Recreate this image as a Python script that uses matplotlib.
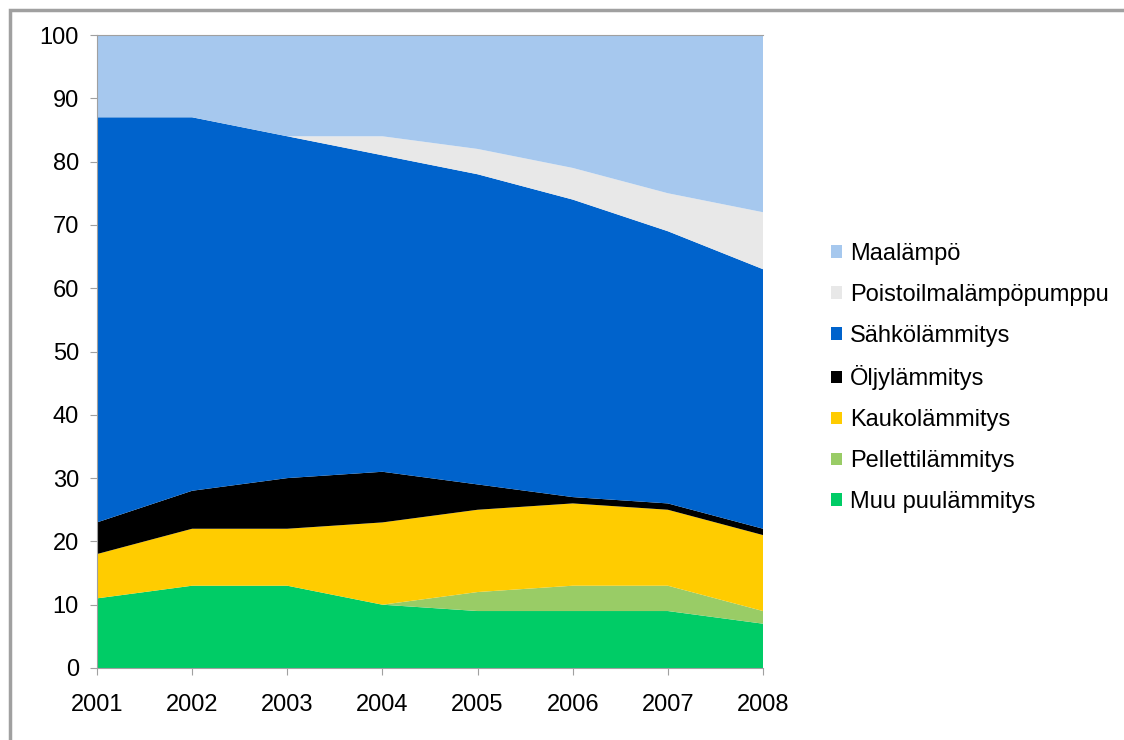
import numpy as np
import matplotlib.pyplot as plt
from matplotlib.patches import Rectangle

plt.rcParams['font.family'] = ['Liberation Sans', 'DejaVu Sans']

years = [2001, 2002, 2003, 2004, 2005, 2006, 2007, 2008]

# shares in percent, bottom layer first
muu_puu = [11, 13, 13, 10, 9, 9, 9, 7]
pelletti = [0, 0, 0, 0, 3, 4, 4, 2]
kauko = [7, 9, 9, 13, 13, 13, 12, 12]
oljy = [5, 6, 8, 8, 4, 1, 1, 1]
sahko = [64, 59, 54, 50, 49, 47, 43, 41]
poistoilma = [0, 0, 0, 3, 4, 5, 6, 9]
maalampo = [13, 13, 16, 16, 18, 21, 25, 28]

labels = ['Muu puulämmitys', 'Pellettilämmitys', 'Kaukolämmitys', 'Öljylämmitys',
          'Sähkölämmitys', 'Poistoilmalämpöpumppu', 'Maalämpö']
colors = ['#00CC66', '#99CC66', '#FFCC00', '#000000',
          '#0063CC', '#E8E8E8', '#A6C8EE']

fig = plt.figure(figsize=(11.24, 7.4), dpi=100)

# chart frame like the excel export
fig.patches.append(Rectangle((10 / 1124, -0.1), 1.2, 1.1 - 10 / 740, transform=fig.transFigure,
                             fill=False, edgecolor='#A0A0A0', linewidth=2.5, zorder=0))

ax = fig.add_axes([97 / 1124, 1 - 668 / 740, 666 / 1124, 633 / 740])

x = np.arange(len(years))
ax.stackplot(x, muu_puu, pelletti, kauko, oljy, sahko, poistoilma, maalampo,
             colors=colors, labels=labels, linewidth=0)

ax.set_xlim(0, len(years) - 1)
ax.set_ylim(0, 100)
ax.set_xticks(x)
ax.set_xticklabels([str(y) for y in years])
ax.set_yticks(range(0, 101, 10))

for s in ['left', 'bottom', 'top']:
    ax.spines[s].set_color('#A0A0A0')
ax.spines['right'].set_visible(False)
ax.tick_params(axis='both', colors='#A0A0A0', length=5, labelsize=17,
               labelcolor='black')
ax.tick_params(axis='x', pad=14)
ax.tick_params(axis='y', pad=8)

handles, leg_labels = ax.get_legend_handles_labels()
leg = fig.legend(handles[::-1], leg_labels[::-1], loc='center left',
                 bbox_to_anchor=(810 / 1124, 1 - 378 / 740), frameon=False,
                 fontsize=17, handlelength=0.45, handleheight=0.45,
                 handletextpad=0.35, labelspacing=0.8)

plt.savefig('out.png', dpi=100)
